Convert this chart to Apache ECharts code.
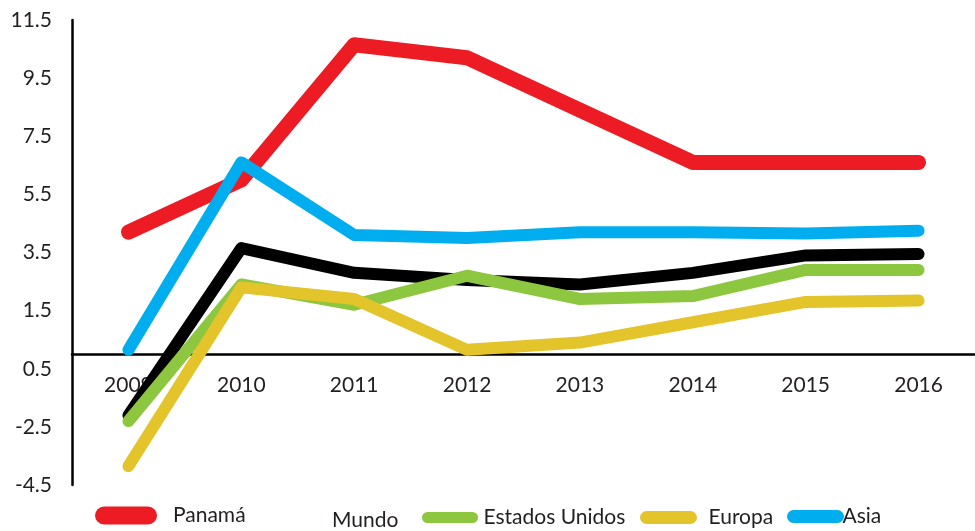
<!DOCTYPE html>
<html>
<head>
<meta charset="utf-8">
<script src="https://cdn.jsdelivr.net/npm/echarts@6/dist/echarts.min.js"></script>
<style>
  html, body { margin: 0; padding: 0; background: #fff; }
  #chart { width: 975px; height: 531px; }
</style>
</head>
<body>
<div id="chart"></div>
<script>
// categorias y series
var years = ['2009', '2010', '2011', '2012', '2013', '2014', '2015', '2016'];
var panama = [4.2, 6.0, 10.65, 10.2, 8.4, 6.6, 6.6, 6.6];
var mundo = [-2.1, 3.65, 2.8, 2.55, 2.4, 2.8, 3.4, 3.45];
var estadosUnidos = [-2.3, 2.4, 1.7, 2.7, 1.9, 2.0, 2.9, 2.9];
var europa = [-3.85, 2.3, 1.9, 0.15, 0.4, 1.1, 1.8, 1.85];
var asia = [0.15, 6.6, 4.1, 4.0, 4.2, 4.2, 4.15, 4.25];
// etiquetas del eje y tal como aparecen
var yTickLabels = ['-4.5', '-2.5', '0.5', '1.5', '3.5', '5.5', '7.5', '9.5', '11.5'];

var font = 'Lato';
var textColor = '#231f20';

function line(name, data, color, width) {
    return {
        name: name,
        type: 'line',
        data: data,
        symbol: 'none',
        smooth: false,
        lineStyle: { color: color, width: width, cap: 'round', join: 'round' },
        itemStyle: { color: color }
    };
}

// una leyenda por elemento, el icono es una linea gruesa de puntas redondas
function legendItem(name, left, top, w, h, gap, hidden) {
    return {
        left: left,
        top: top,
        padding: 0,
        itemWidth: w,
        itemHeight: h,
        selectedMode: false,
        lineStyle: { width: h, cap: 'round', opacity: hidden ? 0 : 1 },
        itemStyle: { opacity: 0 },
        textStyle: { fontFamily: font, fontSize: 21, color: textColor, padding: [0, 0, 0, gap] },
        data: [name]
    };
}

var chart = echarts.init(document.getElementById('chart'));
chart.setOption({
    animation: false,
    backgroundColor: '#fff',
    grid: { left: 72, top: 20, width: 910, height: 465, containLabel: false },
    xAxis: {
        type: 'category',
        data: years,
        boundaryGap: true,
        axisLine: { onZero: true, lineStyle: { color: '#000', width: 2.5 } },
        axisTick: { show: false },
        // las etiquetas quedan bajo la linea del cero
        axisLabel: { margin: -110, fontFamily: font, fontSize: 21, color: textColor }
    },
    yAxis: {
        type: 'value',
        min: -4.5,
        max: 11.5,
        interval: 2,
        axisLine: { show: true, lineStyle: { color: '#000', width: 2.5 } },
        axisTick: { show: false },
        splitLine: { show: false },
        axisLabel: {
            margin: 20,
            fontFamily: font,
            fontSize: 21,
            color: textColor,
            formatter: function (v, i) { return yTickLabels[i]; }
        }
    },
    legend: [
        legendItem('Panamá', 95, 505, 44, 18, 20),
        legendItem('Mundo', 312, 510, 10, 10, 0, true),
        legendItem('Estados Unidos', 422, 507, 45, 11, 6),
        legendItem('Europa', 640, 507, 44, 13, 13),
        legendItem('Asia', 787, 506, 44, 13, 0)
    ],
    series: [
        line('Panamá', panama, '#ed1c24', 15),
        line('Mundo', mundo, '#000000', 12),
        line('Estados Unidos', estadosUnidos, '#8dc63f', 12),
        line('Europa', europa, '#e3c42b', 12),
        line('Asia', asia, '#00aeef', 12)
    ]
});
</script>
</body>
</html>
